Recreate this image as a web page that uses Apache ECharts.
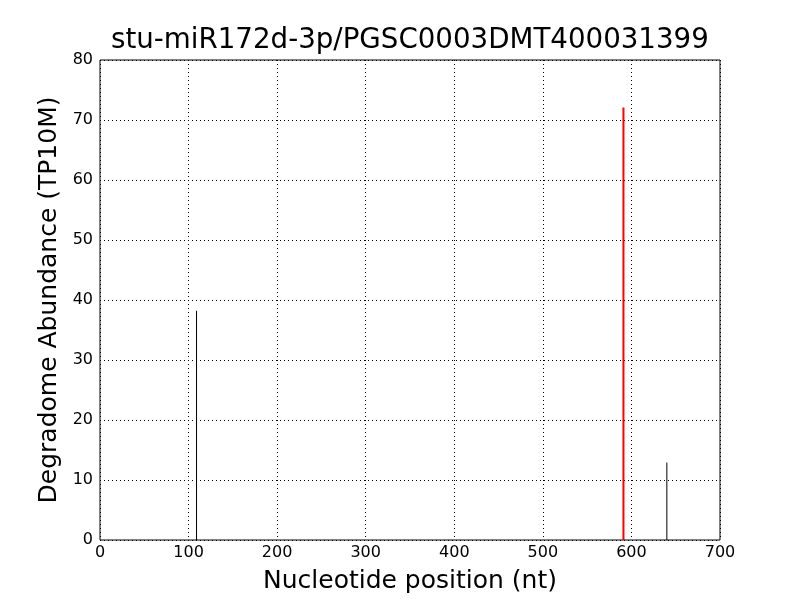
<!DOCTYPE html>
<html><head><meta charset="utf-8">
<script src="https://cdn.jsdelivr.net/npm/echarts@6/dist/echarts.min.js"></script>
<style>html,body{margin:0;padding:0;background:#fff}#c{width:800px;height:600px}</style>
</head><body><div id="c"></div>
<script>
const titleText = 'stu-miR172d-3p/PGSC0003DMT400031399';
const positions = [109, 591, 640];
const abundances = [38.2, 72.1, 12.9];
const colors = ['#000000', '#ff0000', '#000000'];
const widths = [1, 2, 1];

const chart = echarts.init(document.getElementById('c'));
const font = 'DejaVu Sans';
const series = positions.map((p, i) => ({
  type: 'line',
  data: [[p, 0], [p, abundances[i]]],
  symbol: 'none',
  lineStyle: { color: colors[i], width: widths[i] },
  silent: true,
  z: 3
}));
chart.setOption({
  animation: false,
  backgroundColor: '#fff',
  title: {
    text: titleText, left: 106, top: 22,
    textStyle: { fontFamily: font, fontSize: 27.7, fontWeight: 'normal', color: '#000' }
  },
  grid: { left: 100, right: 80, top: 60, bottom: 60, show: true, borderColor: '#000', borderWidth: 1, backgroundColor: 'transparent' },
  xAxis: {
    type: 'value', min: 0, max: 700, interval: 100,
    name: 'Nucleotide position (nt)', nameLocation: 'middle', nameGap: 29,
    nameTextStyle: { fontFamily: font, fontSize: 25, color: '#000' },
    axisLine: { show: false }, axisTick: { show: false },
    axisLabel: { fontFamily: font, fontSize: 16, color: '#000', margin: 5 },
    splitLine: { show: true, lineStyle: { color: '#000', type: [1, 3], width: 1 } }
  },
  yAxis: {
    type: 'value', min: 0, max: 80, interval: 10,
    name: 'Degradome Abundance (TP10M)', nameLocation: 'middle', nameGap: 36,
    nameTextStyle: { fontFamily: font, fontSize: 25, color: '#000' },
    axisLine: { show: false }, axisTick: { show: false },
    axisLabel: { fontFamily: font, fontSize: 16, color: '#000', margin: 7 },
    splitLine: { show: true, lineStyle: { color: '#000', type: [1, 3], width: 1 } }
  },
  series: series
});
</script></body></html>
